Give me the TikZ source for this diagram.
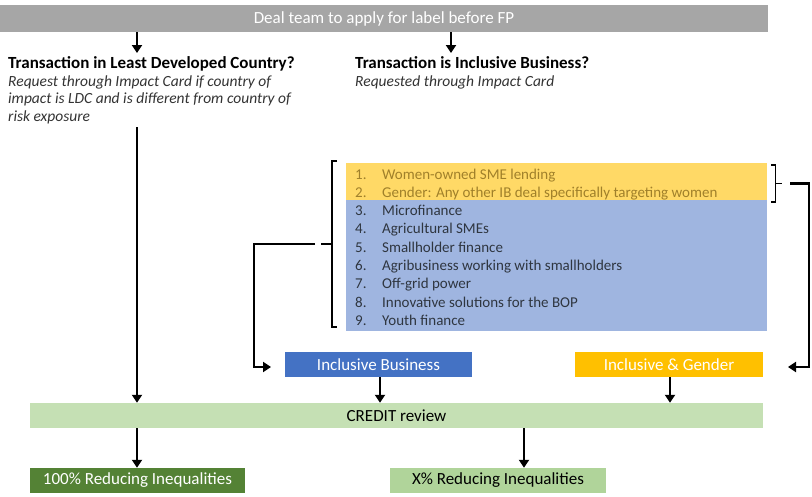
\documentclass[tikz,border=0pt]{standalone}
\usepackage{fontspec}
\setmainfont{Carlito}
\usetikzlibrary{arrows.meta,calc}
\definecolor{barGray}{HTML}{A6A6A6}
\definecolor{listYellow}{HTML}{FFD966}
\definecolor{listYellowText}{HTML}{A0802A}
\definecolor{listBlue}{HTML}{9FB5E0}
\definecolor{listBlueText}{HTML}{2F3640}
\definecolor{ibBlue}{HTML}{4472C4}
\definecolor{igGold}{HTML}{FFC000}
\definecolor{creditGreen}{HTML}{C5E0B4}
\definecolor{darkGreen}{HTML}{548235}
\definecolor{midGreen}{HTML}{B0D49A}
\definecolor{noteGray}{HTML}{333333}
\begin{document}
\begin{tikzpicture}[x=1pt,y=-1pt,
  box/.style={draw=none, inner sep=0pt, minimum height=25pt, text=white,
    font=\fontsize{17}{20}\selectfont},
  tip/.style={-{Triangle[width=10pt,length=8pt]}},
  arr/.style={line width=2.6pt, tip},
  conn/.style={line width=2.6pt},
  brk/.style={line width=1.8pt},
  head/.style={inner sep=0pt, anchor=base west, font=\fontsize{17}{20}\selectfont\bfseries},
  note/.style={inner sep=0pt, anchor=base west, text=noteGray, font=\fontsize{15.5}{18}\selectfont\itshape},
  item/.style={inner sep=0pt, anchor=base west, font=\fontsize{15}{18}\selectfont}
]
\useasboundingbox (0,0) rectangle (812,496);

% top bar
\node[box, fill=barGray, minimum width=768pt, minimum height=27pt] (top) at (384,18.5) {Deal team to apply for label before FP};

% headings
\node[head] (ldc) at (8,68) {Transaction in Least Developed Country?};
\node[note] (ldc1) at (8,86) {Request through Impact Card if country of};
\node[note] (ldc2) at (8,103.5) {impact is LDC and is different from country of};
\node[note] (ldc3) at (8,121) {risk exposure};
\node[head] (ib) at (355,68) {Transaction is Inclusive Business?};
\node[note] (ib1) at (355,86) {Requested through Impact Card};

\coordinate (a1) at (137,53);
\coordinate (a2) at (451,53);
\draw[arr] (top.south -| a1) -- (a1);
\draw[arr] (top.south -| a2) -- (a2);

% list
\node[fill=listYellow, inner sep=0pt, minimum width=421pt, minimum height=37pt] (ybg) at (556.5,181.5) {};
\node[fill=listBlue, inner sep=0pt, minimum width=421pt, minimum height=131pt] (bbg) at (556.5,265.5) {};
\begin{scope}[every node/.append style={item}]
\node[text=listYellowText] (i1) at (355,179) {\makebox[27pt][l]{1.}Women-owned SME lending};
\node[text=listYellowText] (i2) at (355,197.3) {\makebox[27pt][l]{2.}Gender: Any other IB deal specifically targeting women};
\node[text=listBlueText] (i3) at (355,215.6) {\makebox[27pt][l]{3.}Microfinance};
\node[text=listBlueText] (i4) at (355,233.9) {\makebox[27pt][l]{4.}Agricultural SMEs};
\node[text=listBlueText] (i5) at (355,252.2) {\makebox[27pt][l]{5.}Smallholder finance};
\node[text=listBlueText] (i6) at (355,270.5) {\makebox[27pt][l]{6.}Agribusiness working with smallholders};
\node[text=listBlueText] (i7) at (355,288.8) {\makebox[27pt][l]{7.}Off-grid power};
\node[text=listBlueText] (i8) at (355,307.1) {\makebox[27pt][l]{8.}Innovative solutions for the BOP};
\node[text=listBlueText] (i9) at (355,325.4) {\makebox[27pt][l]{9.}Youth finance};
\end{scope}

% brackets
\draw[brk] (337,161) -- (332,161) -- (332,327) -- (337,327);
\draw[brk] (321,244) -- (332,244);
\draw[brk] (771,165) -- (775.5,165) -- (775.5,202) -- (771,202);
\draw[brk] (775.5,183.5) -- (782,183.5);

% result boxes
\node[box, fill=ibBlue, minimum width=187pt] (incb) at (378.5,364.5) {Inclusive Business};
\node[box, fill=igGold, minimum width=188pt] (incg) at (669,364.5) {Inclusive \& Gender};
\node[box, fill=creditGreen, minimum width=733pt, text=black] (credit) at (396.5,415.5) {CREDIT review};
\node[box, fill=darkGreen, minimum width=215pt] (full) at (137.5,480.5) {100\% Reducing Inequalities};
\node[box, fill=midGreen, minimum width=216pt, text=black] (part) at (498,480.5) {X\% Reducing Inequalities};

% elbow connectors
\coordinate (lb) at (315,244);
\coordinate (lt) at (271,367);
\draw[conn, tip] (lb) -- (254,244) -- (254,367) -- (lt);
\coordinate (rb) at (790,183.5);
\coordinate (rt) at (788,367);
\draw[conn, tip] (rb) -- (809,183.5) -- (809,367) -- (rt);

% vertical arrows
\coordinate (ls) at (137,127);
\draw[arr] (ls) -- (ls |- credit.north);
\coordinate (xb) at (380,0);
\draw[arr] (xb |- incb.south) -- (xb |- credit.north);
\coordinate (xg) at (670,0);
\draw[arr] (xg |- incg.south) -- (xg |- credit.north);
\draw[arr] (credit.south -| ls) -- (ls |- full.north);
\coordinate (xp) at (524,0);
\draw[arr] (xp |- credit.south) -- (xp |- part.north);
\end{tikzpicture}
\end{document}
